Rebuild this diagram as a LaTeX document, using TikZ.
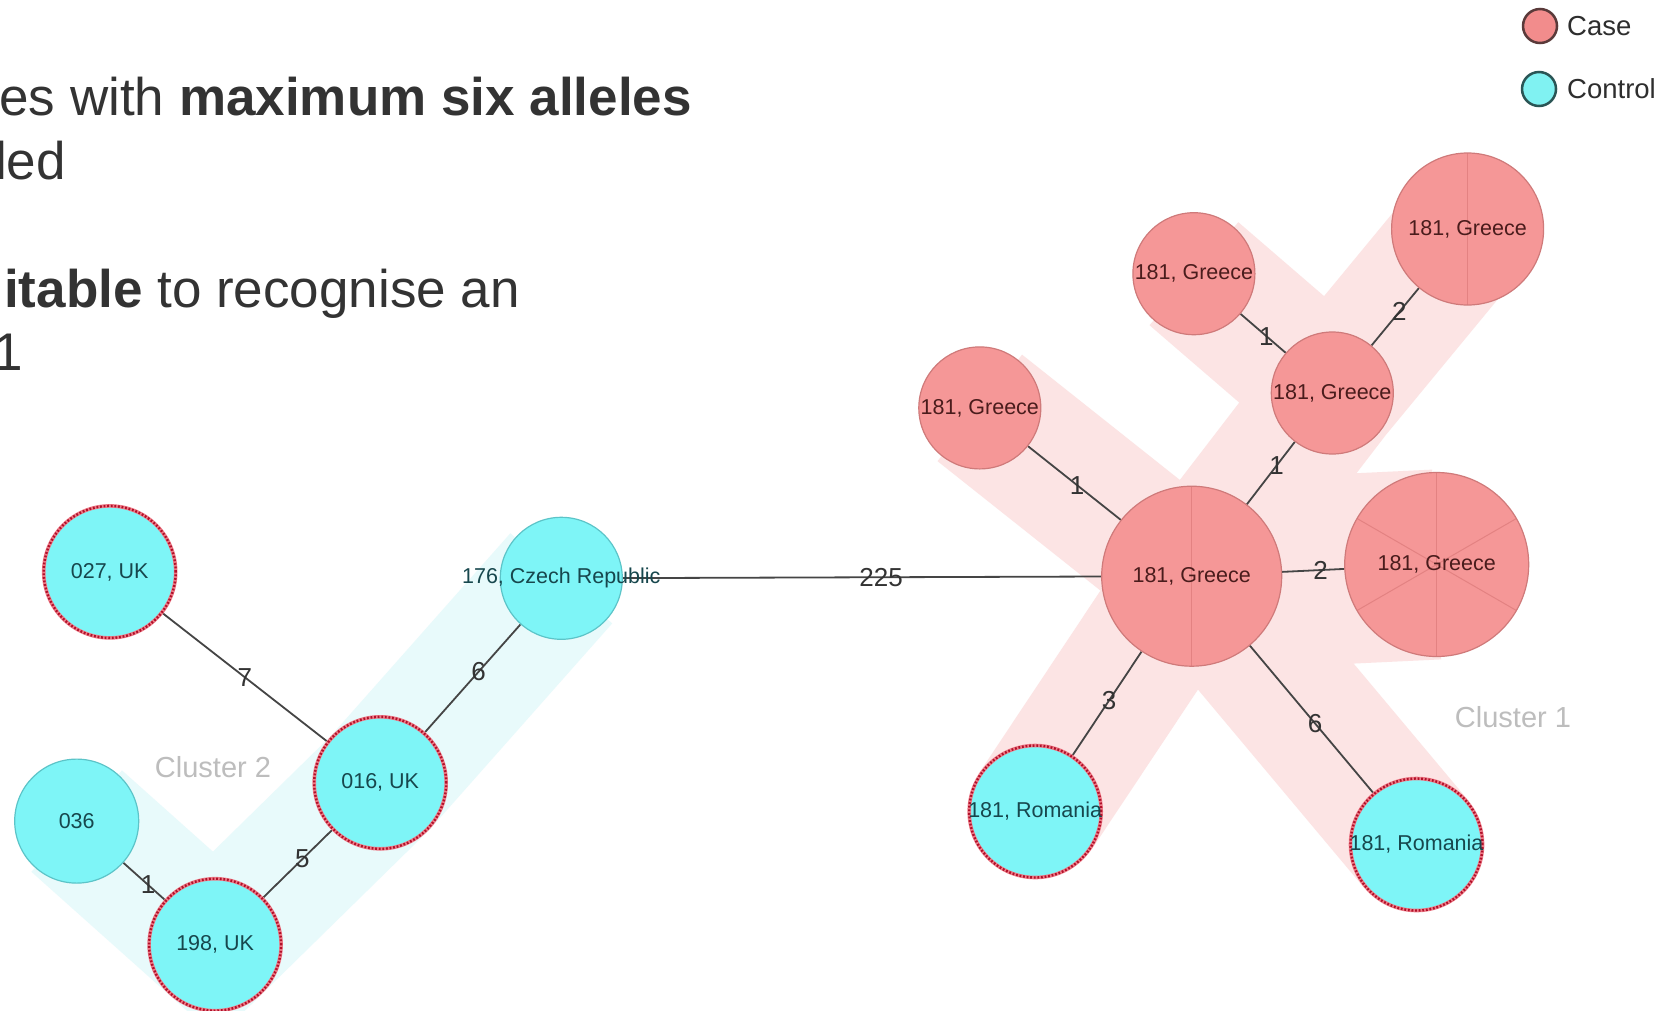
\documentclass[tikz,border=0pt]{standalone}
\usepackage{fontspec}
\setmainfont{Liberation Sans}
\pgfdeclarelayer{bands}
\pgfdeclarelayer{links}
\pgfsetlayers{bands,links,main}

\definecolor{inktext}{HTML}{333333}
\definecolor{casefill}{HTML}{F59797}
\definecolor{caseline}{HTML}{CF7A7A}
\definecolor{cutcolor}{HTML}{E38282}
\definecolor{casetext}{HTML}{4A1C1C}
\definecolor{ctrlfill}{HTML}{7EF5F7}
\definecolor{ctrlline}{HTML}{5CC4C8}
\definecolor{ctrltext}{HTML}{17474D}
\definecolor{ringpink}{HTML}{EE7C88}
\definecolor{ringred}{HTML}{B0102A}
\definecolor{bandpink}{HTML}{FCE4E4}
\definecolor{bandcyan}{HTML}{E8FAFB}
\definecolor{linkgray}{HTML}{454545}
\definecolor{clustergray}{HTML}{BDBDBD}
\definecolor{legcasefill}{HTML}{F28C8C}
\definecolor{legcaseline}{HTML}{5A3A3A}
\definecolor{legctrlfill}{HTML}{80F2F2}
\definecolor{legctrlline}{HTML}{2A5555}

\tikzset{
  casenode/.style={circle, inner sep=0pt, minimum size=#1, fill=casefill, draw=caseline, line width=1.2pt},
  ctrlnode/.style={circle, inner sep=0pt, minimum size=#1, fill=ctrlfill, draw=ctrlline, line width=1.2pt},
  ringed/.style={draw=ringpink, line width=3.6pt,
    postaction={draw=ringred, line width=2.4pt, dash pattern=on 1.8pt off 1.8pt}},
  cut/.style={draw=cutcolor, line width=1pt},
  pietwo/.style={path picture={
    \draw[cut] (path picture bounding box.north) -- (path picture bounding box.south);}},
  piesix/.style={path picture={
    \draw[cut] (path picture bounding box.north) -- (path picture bounding box.south);
    \draw[cut] (path picture bounding box.center) ++(30:120) -- ++(210:240);
    \draw[cut] (path picture bounding box.center) ++(150:120) -- ++(330:240);}},
  casetxt/.style={inner sep=0pt, text=casetext, font=\fontsize{21.5}{24}\selectfont},
  ctrltxt/.style={inner sep=0pt, text=ctrltext, font=\fontsize{21.5}{24}\selectfont},
  link/.style={draw=linkgray, line width=1.8pt},
  elabel/.style={inner sep=0pt, text=inktext, font=\fontsize{26}{28}\selectfont},
  band/.style={line width=136pt, line cap=butt, line join=miter},
  clusterlabel/.style={inner sep=0pt, text=clustergray, font=\fontsize{29}{32}\selectfont},
  headline/.style={inner sep=0pt, text=inktext, font=\fontsize{53}{60}\selectfont, anchor=base east},
  legtxt/.style={inner sep=0pt, text=inktext!90!black, font=\fontsize{27.5}{30}\selectfont, anchor=west},
}

\begin{document}
\begin{tikzpicture}[x=1pt, y=-1pt]
  \useasboundingbox (0,0) rectangle (1670,1010);

  % text lines of the slide
  \node[headline] (h1) at (692,115) {es with \textbf{maximum six alleles}};
  \node[headline] (h2) at (66,179) {led};
  \node[headline] (h3) at (520,307) {\textbf{itable} to recognise an};
  \node[headline] (h4) at (23,370) {1};

  % legend
  \node[circle, inner sep=0pt, minimum size=34pt, fill=legcasefill, draw=legcaseline, line width=2.5pt] (legcase) at (1540,26) {};
  \node[legtxt] (legcasetxt) at (1567,26) {Case};
  \node[circle, inner sep=0pt, minimum size=34pt, fill=legctrlfill, draw=legctrlline, line width=2.5pt] (legctrl) at (1539,89) {};
  \node[legtxt] (legctrltxt) at (1567,89) {Control};

  % cluster 2 (controls)
  \node[ctrlnode=132pt, ringed] (n027) at (109.7,571.9) {};
  \node[ctrlnode=122pt] (n176) at (561.3,578.3) {};
  \node[ctrlnode=132pt, ringed] (n016) at (380.2,782.8) {};
  \node[ctrlnode=124pt] (n036) at (76.7,821.1) {};
  \node[ctrlnode=132pt, ringed] (n198) at (215.1,944.7) {};

  % cluster 1 (cases)
  \node[casenode=180pt, pietwo] (gC) at (1191.7,576.2) {};
  \node[casenode=152pt, pietwo] (gTR) at (1467.6,229.0) {};
  \node[casenode=122pt] (gTL) at (1193.9,273.7) {};
  \node[casenode=122pt] (gM) at (1332.3,393.0) {};
  \node[casenode=122pt] (gL) at (979.8,407.9) {};
  \node[casenode=184pt, piesix] (gR) at (1436.7,564.5) {};
  \node[ctrlnode=132pt, ringed] (rL) at (1035.2,811.5) {};
  \node[ctrlnode=132pt, ringed] (rR) at (1416.5,844.5) {};

  % node captions
  \node[ctrltxt] (t027) at (n027) {027, UK};
  \node[ctrltxt] (t176) at (n176) {176, Czech Republic};
  \node[ctrltxt] (t016) at (n016) {016, UK};
  \node[ctrltxt] (t036) at (n036) {036};
  \node[ctrltxt] (t198) at (n198) {198, UK};
  \node[casetxt] (tgC) at (gC) {181, Greece};
  \node[casetxt] (tgTR) at (gTR) {181, Greece};
  \node[casetxt] (tgTL) at (gTL) {181, Greece};
  \node[casetxt] (tgM) at (gM) {181, Greece};
  \node[casetxt] (tgL) at (gL) {181, Greece};
  \node[casetxt] (tgR) at (gR) {181, Greece};
  \node[ctrltxt] (trL) at (rL) {181, Romania};
  \node[ctrltxt] (trR) at (rR) {181, Romania};

  % cluster names
  \node[clusterlabel] (c2) at (213,767) {Cluster 2};
  \node[clusterlabel] (c1) at (1513,717) {Cluster 1};

  % connectors with distances
  \begin{pgfonlayer}{links}
    \draw[link] (n027) -- node[elabel, pos=0.5] (e1) {7} (n016);
    \draw[link] (n176) -- node[elabel, pos=0.44] (e2) {6} (n016);
    \draw[link] (n016) -- node[elabel, pos=0.43] (e3) {5} (n198);
    \draw[link] (n036) -- node[elabel, pos=0.6] (e4) {1} (n198);
    \draw[link] (n176) -- node[elabel, pos=0.54] (e5) {225} (gC);
    \draw[link] (gL) -- node[elabel, pos=0.53] (e6) {1} (gC);
    \draw[link] (gC) -- node[elabel, pos=0.62] (e7) {1} (gM);
    \draw[link] (gM) -- node[elabel, pos=0.43] (e8) {1} (gTL);
    \draw[link] (gM) -- node[elabel, pos=0.59] (e9) {2} (gTR);
    \draw[link] (gC) -- node[elabel, pos=0.62] (e10) {2} (gR);
    \draw[link] (gC) -- node[elabel, pos=0.47] (e11) {3} (rL);
    \draw[link] (gC) -- node[elabel, pos=0.53] (e12) {6} (rR);
  \end{pgfonlayer}

  % white page and cluster highlight bands
  \begin{pgfonlayer}{bands}
    \fill[white] (0,0) rectangle (1670,1010);
    \draw[band, draw=bandcyan] (n036.center) -- (n198.center) -- (n016.center) -- (n176.center);
    \draw[band, draw=bandpink] (gL.center) -- (gC.center) -- (rR.center);
    \draw[band, draw=bandpink] (rL.center) -- (gC.center) -- (gM.center) -- (gTR.center);
    \draw[band, draw=bandpink] (gM.center) -- (gTL.center);
    \draw[band, draw=bandpink, line width=190pt] (gC.center) -- (gR.center);
  \end{pgfonlayer}
\end{tikzpicture}
\end{document}
